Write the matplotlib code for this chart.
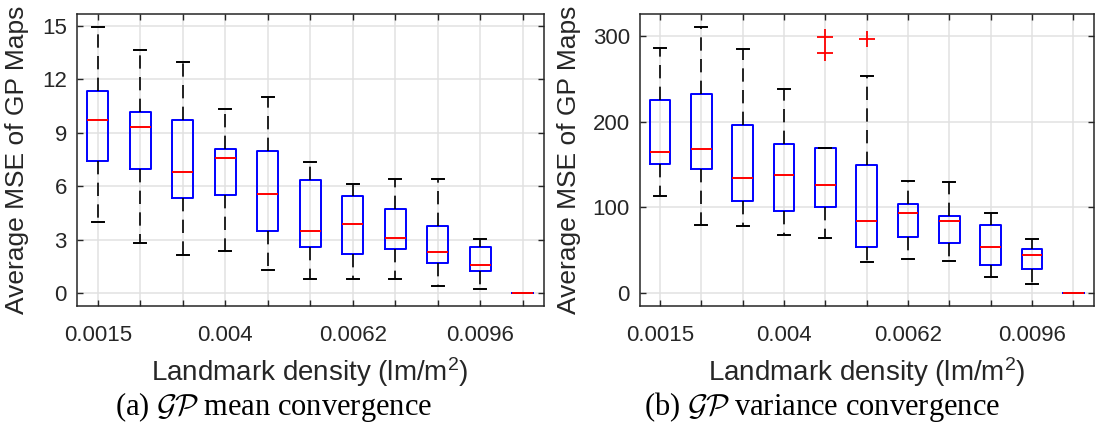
import matplotlib
matplotlib.use('Agg')
import matplotlib.pyplot as plt

# ---------------- data ----------------
positions = list(range(1, 12))
xtick_labels = ['0.0015', '', '', '0.004', '', '', '0.0062', '', '', '0.0096', '']

# (a) GP mean convergence
mean_lo  = [3.99, 2.81, 2.14, 2.34, 1.28, 0.79, 0.81, 0.79, 0.39, 0.23, 0.0]
mean_q1  = [7.41, 6.98, 5.33, 5.49, 3.49, 2.59, 2.19, 2.49, 1.71, 1.22, 0.0]
mean_med = [9.71, 9.32, 6.81, 7.58, 5.55, 3.49, 3.88, 3.11, 2.31, 1.58, 0.0]
mean_q3  = [11.34, 10.20, 9.73, 8.10, 7.97, 6.36, 5.46, 4.74, 3.75, 2.57, 0.0]
mean_hi  = [14.96, 13.65, 12.96, 10.33, 11.04, 7.37, 6.15, 6.43, 6.39, 3.04, 0.0]
mean_fliers = [[], [], [], [], [], [], [], [], [], [], []]
mean_yticks = [0, 3, 6, 9, 12, 15]

# (b) GP variance convergence
var_lo  = [113.8, 79.1, 78.7, 67.8, 63.9, 36.2, 39.7, 37.4, 18.7, 10.9, 0.0]
var_q1  = [150.4, 144.9, 107.1, 95.4, 100.1, 53.4, 65.4, 58.0, 32.3, 27.7, 0.0]
var_med = [164.4, 168.3, 134.4, 137.9, 126.6, 84.5, 93.9, 83.8, 53.4, 44.0, 0.0]
var_q3  = [225.6, 232.6, 195.6, 173.7, 169.5, 149.6, 104.0, 89.6, 79.1, 51.4, 0.0]
var_hi  = [285.5, 310.9, 284.8, 238.0, 169.5, 252.8, 131.3, 129.3, 93.9, 62.7, 0.0]
var_fliers = [[], [], [], [], [298.8, 280.5], [296.1], [], [], [], [], []]
var_yticks = [0, 100, 200, 300]

ylabel_text = 'Average MSE of GP Maps'
xlabel_text = 'Landmark density (lm/m$^2$)'
caption_a = r'(a) $\mathcal{GP}$ mean convergence'
caption_b = r'(b) $\mathcal{GP}$ variance convergence'

# ---------------- style ----------------
plt.rcParams['font.family'] = ['Liberation Sans', 'DejaVu Sans']
plt.rcParams['mathtext.fontset'] = 'custom'
plt.rcParams['mathtext.rm'] = 'Liberation Sans'
plt.rcParams['mathtext.it'] = 'Liberation Sans:italic'
plt.rcParams['mathtext.bf'] = 'Liberation Sans:bold'

W, H = 1095, 438
fig = plt.figure(figsize=(W / 100, H / 100), dpi=100)

ax1 = fig.add_axes([76.5 / W, (H - 306) / H, 467.5 / W, 292 / H])
ax2 = fig.add_axes([639.5 / W, (H - 306) / H, 454.5 / W, 292 / H])

TXT = '#262626'


def draw(ax, lo, q1, med, q3, hi, fl, ylim, yticks, ylab_x):
    stats = [dict(whislo=a, q1=b, med=c, q3=d, whishi=e, fliers=f)
             for a, b, c, d, e, f in zip(lo, q1, med, q3, hi, fl)]
    ax.bxp(stats, positions=positions, widths=0.5, capwidths=0.29,
           showfliers=True,
           boxprops=dict(color='#0000ff', lw=1.4),
           medianprops=dict(color='#ff0000', lw=1.4),
           whiskerprops=dict(color='black', lw=1.2, linestyle=(0, (8, 5))),
           capprops=dict(color='black', lw=1.4),
           flierprops=dict(marker='+', markeredgecolor='#ff0000',
                           markersize=11, markeredgewidth=1.3,
                           linestyle='none'))
    ax.set_xlim(0.5, 11.5)
    ax.set_ylim(*ylim)
    ax.set_xticks(positions)
    ax.set_xticklabels(xtick_labels)
    ax.set_yticks(yticks)
    ax.set_yticklabels([str(t) for t in yticks])
    ax.grid(True, color='#e1e1e1', lw=1.1)
    ax.set_axisbelow(True)
    for s in ax.spines.values():
        s.set_color(TXT)
        s.set_linewidth(1.1)
    ax.tick_params(direction='in', length=4.3, width=1.0, top=True,
                   right=True, colors=TXT, labelsize=16)
    ax.tick_params(axis='x', pad=14)
    ax.tick_params(axis='y', pad=7)
    ax.set_ylabel(ylabel_text, fontsize=19, color=TXT)
    ax.yaxis.set_label_coords(ylab_x, 0.5)
    ax.set_xlabel(xlabel_text, fontsize=20, color=TXT)
    ax.xaxis.set_label_coords(0.5, -0.17)


draw(ax1, mean_lo, mean_q1, mean_med, mean_q3, mean_hi, mean_fliers,
     (-0.73, 15.68), mean_yticks, -0.102)
draw(ax2, var_lo, var_q1, var_med, var_q3, var_hi, var_fliers,
     (-15.2, 325.7), var_yticks, -0.128)

fig.text(274 / W, (H - 407) / H, caption_a, family='Liberation Serif',
         math_fontfamily='cm', fontsize=22, ha='center', va='center',
         color='black')
fig.text(822 / W, (H - 407) / H, caption_b, family='Liberation Serif',
         math_fontfamily='cm', fontsize=22, ha='center', va='center',
         color='black')

fig.savefig('out.png', dpi=100)
